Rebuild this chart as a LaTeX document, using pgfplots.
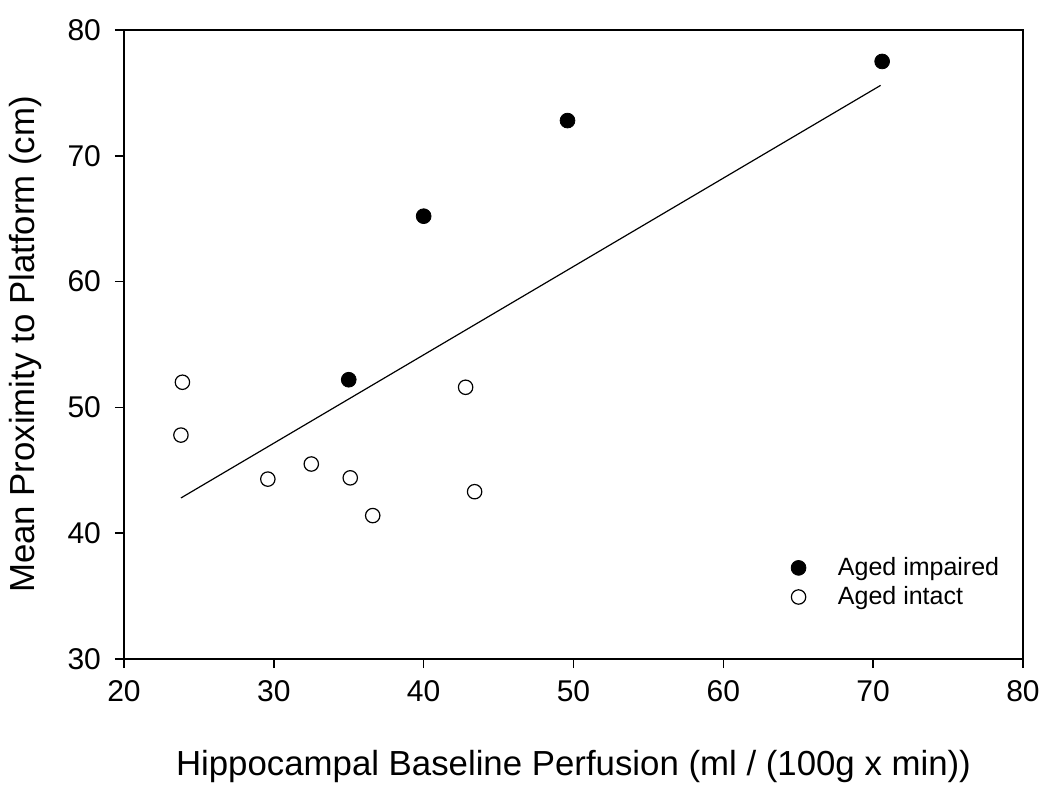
\documentclass[border=0pt]{standalone}
\usepackage{pgfplots}
\pgfplotsset{compat=1.18}
\usepackage{fontspec}
\setmainfont{Liberation Sans}
\begin{document}
\begin{tikzpicture}
\path[use as bounding box] (-62pt,-69.5pt) rectangle (463pt,329.5pt);
\begin{axis}[
  at={(0,0)}, anchor=south west,
  scale only axis, width=449.5pt, height=314.5pt,
  xmin=20, xmax=80, ymin=30, ymax=80,
  xtick={20,30,...,80}, ytick={30,40,...,80},
  axis line style={line width=1pt},
  tick style={line width=0.8pt, black},
  tick align=outside, major tick length=4.5pt,
  xtick pos=bottom, ytick pos=left,
  /pgf/number format/assume math mode=true,
  tick label style={font=\fontsize{15}{17}\selectfont},
  yticklabel style={xshift=-3.5pt},
  xticklabel style={yshift=-2.5pt},
  xlabel={Hippocampal Baseline Perfusion (ml / (100g x min))},
  ylabel={Mean Proximity to Platform (cm)},
  label style={font=\fontsize{17.4}{20}\selectfont},
  xlabel style={yshift=-17.5pt},
  ylabel style={yshift=6pt},
  legend style={draw=none, fill=none, at={(0.735,0.175)}, anchor=north west,
    font=\fontsize{12.5}{15.5}\selectfont, row sep=0pt,
    /tikz/every even column/.append style={column sep=0pt}},
  legend cell align=left,
  clip=false,
]
\addplot[only marks, mark=*, mark size=3.7pt, mark options={fill=black, draw=black}]
  coordinates {(70.6,77.5) (49.6,72.8) (40.0,65.2) (35.0,52.2)};
\addlegendentry{\hspace{14pt}Aged impaired}
\addplot[only marks, mark=o, mark size=3.6pt, mark options={draw=black, line width=0.6pt, fill=white}]
  coordinates {(23.9,52.0) (23.8,47.8) (29.6,44.3) (32.5,45.5) (35.1,44.4) (36.6,41.4) (42.8,51.6) (43.4,43.3)};
\addlegendentry{\hspace{14pt}Aged intact}
\addplot[black, line width=0.6pt, forget plot] coordinates {(23.8,42.8) (70.5,75.6)};
\end{axis}
\end{tikzpicture}
\end{document}
